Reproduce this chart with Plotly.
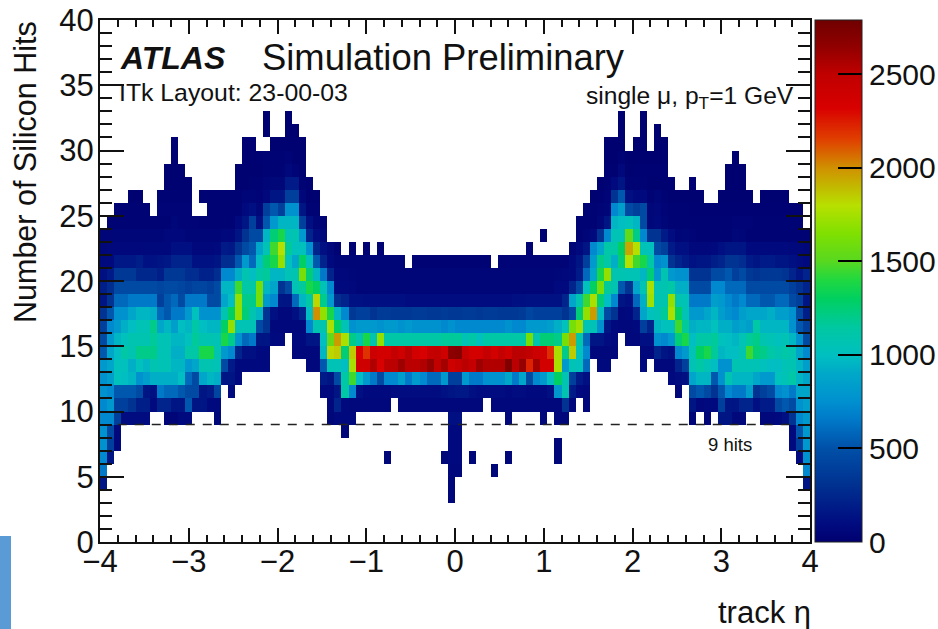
import numpy as np
import plotly.graph_objects as go

x_ticks = [-4, -3, -2, -1, 0, 1, 2, 3, 4]
x_tick_labels = ["\u22124", "\u22123", "\u22122", "\u22121", "0", "1", "2", "3", "4"]
y_ticks = [0, 5, 10, 15, 20, 25, 30, 35, 40]
cb_ticks = [0, 500, 1000, 1500, 2000, 2500]

row_03 = [0]*49 + [40] + [0]*50
row_04 = [100] + [0]*48 + [40] + [0]*49 + [100]
row_05 = [450] + [0]*48 + [50, 50] + [0]*4 + [40] + [0]*43 + [500]
row_06 = [500, 100] + [0]*38 + [40] + [0]*7 + [40, 60, 60, 0, 40] + [0]*4 + [40] + [0]*6 + [40] + [0]*33 + [60, 550]
row_07 = [550, 250, 50] + [0]*46 + [60, 60] + [0]*13 + [40] + [0]*32 + [60, 250, 600]
row_08 = [550, 300, 50] + [0]*31 + [40] + [0]*14 + [60, 60] + [0]*46 + [60, 350, 600]
row_09 = [500, 500, 250, 70, 70, 70, 70, 0, 0, 30, 30, 60, 60, 0, 0, 0, 40] + [0]*15 + [40] + \
    [60, 60, 60] + [0]*13 + [80, 80] + [0]*6 + [50] + [0]*4 + [50, 0, 50, 50] + \
    [0]*17 + [30, 0, 30, 0, 100, 100, 50, 50, 0, 0, 50, 50, 60, 80, 200, 500, 600]
row_10 = [500, 600, 250, 250, 200, 130, 130, 60, 150, 150, 100, 100, 350, 100, 100, 60, 60] + [0]*15 + [50] + \
    [150, 60] + [50]*6 + [0] + [50]*12 + [0] + [50]*9 + [50, 200] + \
    [50, 0, 50] + [0]*14 + [100, 50, 60, 60, 250, 100, 100, 150, 150, 80, 120, 120, 300, 350, 300, 550, 650]
row_11 = [550, 500, 350, 350, 350, 300, 100, 80, 450, 400, 400, 350, 300, 300, 100, 120, 280, 0, 60] + [0]*12 + [60, 60] + \
    [100, 1050, 500, 80, 60, 60, 60, 60, 70, 70, 70, 70, 70, 70, 70, 90, 100, 110, 110, 80, 70, 70, 70, 70, 60, 70, 70, 60, 60, 60, 80, 600, 1000] + \
    [120, 60, 50] + [0]*12 + [40, 0, 300, 350, 300, 200, 350, 500, 450, 450, 650, 200, 250, 300, 500, 550, 450, 700, 700]
row_12 = [550, 650, 900, 850, 800, 550, 650, 750, 750, 750, 750, 850, 400, 300, 700, 800, 750, 100, 100, 60] + [0]*11 + [120, 100] + \
    [300, 1050, 1350, 850, 600, 450, 300, 500, 500, 650, 450, 600, 500, 400, 400, 600, 250, 250, 600, 450, 450, 550, 550, 550, 700, 450, 700, 300, 500, 600, 850, 1250, 1000] + \
    [250, 120, 80] + [0]*11 + [60, 70, 80, 700, 800, 800, 350, 550, 1000, 800, 800, 800, 700, 600, 600, 900, 950, 1050, 800, 700]
row_13 = [600, 700, 900, 900, 750, 900, 800, 1000, 950, 950, 800, 800, 600, 700, 1000, 1000, 950, 300, 120, 60, 60, 60, 60, 60] + [0]*5 + [50, 50, 350, 950] + \
    [950, 850, 1600, 2500, 2500, 2620, 2450, 2600, 2600, 2660, 2600, 2600, 2620, 2680, 2580, 2650, 2500, 2550, 2600, 2550, 2660, 2620, 2620, 2620, 2740, 2600, 2680, 2300, 2650, 2480, 2480, 1600, 600] + \
    [950, 900, 400, 0, 60, 60, 0, 0, 0, 0, 60, 0, 50, 50, 50, 150, 250, 950, 1050, 950, 850, 550, 550, 1000, 950, 950, 950, 900, 850, 850, 950, 1000, 800, 650]
row_14 = [350, 700, 850, 1050, 1000, 1150, 1150, 1150, 950, 950, 750, 750, 1050, 1050, 1300, 1300, 1000, 600, 500, 150, 80, 80, 60, 60, 0, 0, 0, 50, 50, 50, 50, 800, 1700] + \
    [1750, 1200, 1750, 2450, 2230, 2520, 2480, 2480, 2560, 2500, 2600, 2480, 2450, 2550, 2570, 2500, 2700, 2720, 2560, 2470, 2470, 2560, 2480, 2560, 2500, 2600, 2600, 2580, 2520, 2500, 2250, 1600, 1150] + \
    [1750, 900, 500, 50, 50, 50, 50, 0, 0, 0, 50, 50, 150, 100, 80, 500, 600, 950, 1250, 1300, 1100, 800, 850, 850, 1000, 1350, 1200, 1150, 1050, 1000, 1050, 1000, 700, 500]
row_15 = [300, 600, 800, 900, 1000, 1000, 1000, 1100, 950, 950, 800, 800, 900, 1100, 1000, 1000, 950, 1300, 1150, 550, 400, 450, 100, 100, 60, 60, 0, 60, 60, 100, 100, 850, 1400] + \
    [1950, 1600, 1150, 1000, 1300, 1000, 1500] + [1050]*8 + [1100, 1100, 1100, 950, 1050, 900] + [1050]*6 + [1450, 1000, 1200, 1200, 1150, 1450] + \
    [1950, 1050, 400, 100, 100, 70, 60, 0, 50, 50, 80, 80, 550, 500, 600, 1200, 1300, 850, 1050, 1050, 1100, 900, 850, 800, 950, 1100, 1150, 1000, 950, 900, 950, 800, 550, 300]
row_16 = [250, 500, 600, 750, 850, 950, 950, 1150, 700, 800, 650, 850, 800, 1050, 850, 800, 800, 1250, 1500, 950, 950, 950, 300, 200, 50, 50, 50, 50, 50, 500, 1000, 1000, 1600] + \
    [1250, 950, 550, 600, 600, 600, 550, 600, 600, 550, 600, 550, 550, 550, 550, 500, 550, 500, 500, 500, 500, 500, 500, 500, 550, 500, 500, 600, 600, 600, 650, 750, 900] + \
    [1450, 1550, 950, 950, 550, 100, 60, 50, 50, 60, 250, 150, 800, 900, 900, 1350, 1100, 750, 800, 800, 900, 750, 750, 650, 700, 650, 1050, 800, 800, 800, 800, 550, 350, 250]
row_17 = [200, 350, 550, 550, 700, 800, 800, 750, 400, 350, 450, 450, 600, 900, 550, 550, 550, 1000, 1250, 1500, 1200, 1000, 800, 200, 80, 50, 50, 80, 150, 850, 2000, 1500, 1300] + \
    [800, 500, 220, 250, 250, 200, 230, 230, 220, 220, 220, 230, 230, 220, 220, 230, 220, 220, 230, 230, 220, 230, 230, 220, 220, 220, 230, 280, 250, 250, 250, 250, 200] + \
    [300, 1200, 1500, 1950, 850, 300, 200, 50, 60, 150, 700, 900, 950, 1100, 1600, 1250, 950, 600, 600, 700, 800, 650, 550, 500, 650, 700, 700, 700, 750, 650, 650, 550, 300, 130]
row_18 = [100, 200, 400, 400, 450, 450, 450, 450, 250, 350, 400, 300, 450, 450, 450, 300, 300, 700, 850, 1500, 1150, 1150, 1450, 600, 500, 100, 100, 400, 800, 1050, 1700, 1150, 600] + \
    [180, 150, 90, 90] + [80]*6 + [70]*15 + [80, 80] + [90]*5 + [150] + \
    [700, 1000, 1350, 1600, 1200, 850, 500, 100, 80, 400, 750, 1550, 1000, 1000, 1500, 1000, 950, 450, 450, 450, 650, 600, 500, 450, 500, 400, 400, 350, 350, 400, 400, 300, 250, 100]
row_19 = [130, 180, 300, 300, 300, 300, 300, 300, 280, 300, 300, 280, 250, 280, 280, 250, 300, 800, 800, 1350, 1050, 1050, 1450, 800, 700, 200, 300, 950, 1100, 1300, 1250, 950, 500] + \
    [60, 60, 50] + [35]*28 + [60, 60] + \
    [150, 300, 900, 1250, 1450, 1100, 1000, 350, 200, 700, 950, 1600, 950, 1000, 1050, 750, 750, 300, 300, 300, 500, 500, 400, 400, 400, 300, 300, 300, 300, 300, 300, 250, 200, 150]
row_20 = [80, 120, 220, 220, 220, 160, 160, 160, 130, 220, 220, 220, 180, 180, 140, 140, 180, 500, 500, 750, 1000, 850, 1050, 1100, 800, 800, 950, 1000, 1450, 1200, 800, 450, 150] + \
    [50, 50, 40] + [30]*28 + [40, 50] + \
    [60, 120, 400, 700, 1300, 1500, 1000, 1000, 950, 950, 800, 1200, 600, 1000, 600, 550, 550, 200, 200, 200, 300, 300, 350, 250, 300, 220, 200, 220, 220, 220, 200, 150, 100, 150]
row_21 = [60, 60, 110, 110, 110, 130, 90, 90, 100, 110, 150, 150, 150, 90, 90, 90, 100, 180, 180, 350, 600, 400, 850, 1200, 1300, 1500, 900, 700, 1250, 900, 350, 150, 60] + \
    [30]*10 + [0] + [20]*11 + [0] + [25]*10 + \
    [60, 100, 250, 600, 1150, 1050, 750, 1200, 1650, 1350, 1300, 1050, 500, 550, 200, 150, 120, 90, 100, 100, 130, 150, 200, 200, 180, 120, 100, 120, 120, 100, 100, 80, 70, 60]
row_22 = [40, 50, 50, 50, 50, 50, 55, 55, 55, 55, 80, 80, 80, 50, 50, 50, 60, 120, 110, 200, 300, 350, 700, 950, 1350, 1650, 1100, 900, 900, 550, 150, 80, 50] + \
    [15, 0, 15, 0, 15, 0, 15] + [0]*20 + [15] + [0]*5 + \
    [30, 60, 100, 500, 700, 1050, 1050, 1250, 1900, 1650, 950, 900, 300, 250, 120, 80, 80, 50, 50, 50, 60, 80, 100, 100, 100, 60, 60, 60, 60, 60, 60, 50, 50, 40]
row_23 = [30, 30, 30, 30, 30, 30, 30, 30, 30, 50, 50, 50, 30, 30, 30, 30, 30, 50, 50, 100, 200, 300, 300, 800, 1200, 1300, 950, 1000, 600, 150, 70, 40, 0] + \
    [0]*29 + [10] + [0]*3 + \
    [0, 20, 30, 60, 200, 500, 950, 950, 1400, 1150, 500, 200, 200, 120, 70, 30, 40, 25, 20, 20, 20, 20, 20, 40, 30, 20, 20, 20, 20, 20, 20, 20, 20, 20]
row_24 = [0, 20, 20, 20, 20, 20, 20, 20, 20, 20, 40, 25, 25, 25, 20, 20, 20, 20, 20, 60, 100, 250, 80, 350, 600, 800, 800, 800, 250, 80, 30, 20, 0] + [0]*33 + \
    [0, 15, 20, 20, 40, 100, 800, 850, 900, 800, 300, 40, 60, 30, 15, 15, 15, 15, 15, 15, 15, 15, 15, 25, 25, 25, 15, 15, 15, 15, 15, 15, 15, 0]
row_25 = [0, 0, 15, 15, 15, 15, 15, 0, 25, 25, 25, 25, 25, 0, 0, 20, 20, 20, 20, 20, 60, 80, 40, 250, 350, 250, 550, 550, 100, 20, 15, 0, 0] + [0]*33 + \
    [0, 0, 15, 15, 25, 30, 500, 650, 300, 250, 300, 40, 50, 25, 15, 15, 15] + [12]*16 + [0]
row_26 = [0, 0, 0, 0, 10, 10, 0, 0, 15, 15, 15, 15, 15, 0, 15, 15, 15, 15, 15, 15, 30, 30, 25, 50, 100, 100, 250, 250, 40, 10, 10, 0, 0] + [0]*33 + \
    [0, 0, 0, 10, 12, 25, 200, 350, 80, 60, 60, 20, 30, 20, 10, 10, 10, 10, 10, 0, 0, 10, 10, 10, 10, 10, 0, 10, 10, 10, 10, 0, 0, 0]
row_27 = [0]*9 + [10, 10, 10, 10, 0, 0, 0, 0, 0, 0, 10, 10, 15, 15, 30, 40, 40, 120, 120, 15, 8, 0, 0, 0] + [0]*33 + \
    [0, 0, 0, 0, 8, 15, 60, 100, 20, 15, 15, 10, 10, 10, 8, 0, 0, 8, 0, 0, 0, 0, 5, 5, 5] + [0]*9
row_28 = [0]*9 + [10, 10, 10] + [0]*7 + [10, 10, 10, 10, 20, 20, 20, 50, 25, 10] + [0]*4 + [0]*33 + \
    [0]*5 + [8, 10, 50, 10, 8, 8, 8, 8, 8] + [0]*8 + [5, 5, 5] + [0]*9
row_29 = [0]*10 + [8] + [0]*9 + [10, 10, 8, 15, 15, 15, 25, 10, 10] + [0]*4 + [0]*33 + \
    [0]*5 + [5, 5, 20, 5, 5, 5, 5, 5, 5] + [0]*9 + [5] + [0]*10
row_30 = [0]*10 + [8] + [0]*9 + [8, 8, 0, 0, 10, 10, 10, 10, 10] + [0]*4 + [0]*33 + \
    [0]*5 + [5, 5, 5, 0, 5, 5, 0, 5, 5] + [0]*20
row_31 = [0]*23 + [5, 0, 0, 5, 5] + [0]*5 + [0]*33 + [0]*7 + [5, 0, 0, 5, 0, 5] + [0]*21
row_32 = [0]*23 + [5, 0, 0, 5] + [0]*6 + [0]*33 + [0]*7 + [5, 0, 0, 5] + [0]*23

counts_by_row = {3: row_03, 4: row_04, 5: row_05, 6: row_06, 7: row_07, 8: row_08, 9: row_09, 10: row_10,
                 11: row_11, 12: row_12, 13: row_13, 14: row_14, 15: row_15, 16: row_16, 17: row_17, 18: row_18,
                 19: row_19, 20: row_20, 21: row_21, 22: row_22, 23: row_23, 24: row_24, 25: row_25, 26: row_26,
                 27: row_27, 28: row_28, 29: row_29, 30: row_30, 31: row_31, 32: row_32}

for key, r in counts_by_row.items():
    assert len(r) == 100, (key, len(r))

# The cell readings above were taken against a first rough colour key; this pairs them with the palette bar's counts.
reading_levels = [0, 50, 100, 250, 500, 750, 1000, 1250, 1500, 1700, 1850, 2000, 2250, 2450, 2600, 2790]
count_levels = [0, 70, 150, 400, 720, 930, 1080, 1290, 1700, 1820, 1920, 2000, 2200, 2320, 2520, 2790]

empty = [None] * 100
z = [[(round(float(np.interp(v, reading_levels, count_levels))) if v else None) for v in counts_by_row[k]]
     if k in counts_by_row else empty for k in range(40)]

ZMAX = 2790
stops = [(0, "#000070"), (100, "#000c80"), (300, "#003090"), (500, "#0050a8"), (650, "#0078c8"), (750, "#0090d0"),
         (900, "#00a8c8"), (1000, "#00c0c0"), (1150, "#00c8a0"), (1300, "#00d060"), (1400, "#20d840"),
         (1500, "#58d820"), (1650, "#80e000"), (1800, "#b8e000"), (1880, "#c0c000"), (2000, "#d09000"),
         (2150, "#e04000"), (2320, "#d80000"), (2500, "#c00000"), (2650, "#900000"), (2790, "#700000")]
colorscale = [[v / ZMAX, c] for v, c in stops]

FONT = "Liberation Sans"
L, R, T, B = 100, 810, 20, 542
W, H = 1000, 629   # wider than the window so the colour bar's box does not squeeze the axes; the page clips it
PAPER_W = W - L
px = lambda x: (x - L) / PAPER_W
py = lambda y: (B - y) / (B - T)

fig = go.Figure(go.Heatmap(
    z=z, x0=-3.96, dx=0.08, y0=0.5, dy=1, zmin=0, zmax=ZMAX, colorscale=colorscale,
    xgap=0, ygap=0, zsmooth=False,
    colorbar=dict(
        thicknessmode="pixels", thickness=47, lenmode="pixels", len=B - T,
        x=px(815), xanchor="left", xpad=0, y=0, yanchor="bottom", ypad=0,
        outlinecolor="#222", outlinewidth=1, tickmode="array", tickvals=cb_ticks,
        ticks="inside", ticklen=24, tickcolor="black", tickwidth=2,
        tickfont=dict(family=FONT, size=30, color="#111"),
    ),
))

fig.add_shape(type="line", xref="x", yref="y", x0=-3.8, x1=3.8, y0=9, y1=9,
              line=dict(color="#222", width=1.5, dash="9px,8px"))
fig.add_shape(type="rect", xref="paper", yref="paper", x0=px(0), x1=px(11), y0=py(629), y1=py(536),
              fillcolor="#5b9bd5", line=dict(width=0), layer="above")


def label(text, x, y, size, anchor="left", angle=0, **kw):
    fig.add_annotation(text=text, xref="paper", yref="paper", x=px(x), y=py(y), xanchor=anchor, yanchor="middle",
                       showarrow=False, textangle=angle, font=dict(family=FONT, size=size, color="#111"), **kw)


label("<b><i>ATLAS</i></b>", 118, 58, 32)
label("Simulation Preliminary", 260, 57, 36.4)
label("ITk Layout: 23-00-03", 117, 93, 24.8)
label("single \u03bc, p<sub>T</sub>=1 GeV", 584, 97, 24.6)
label("9 hits", 706, 444, 18.5)
label("track \u03b7", 716, 612, 31)
label("Number of Silicon Hits", 25, 172, 30.5, anchor="center", angle=-90)

fig.update_xaxes(domain=[0, (R - L) / PAPER_W], range=[-4, 4], tickmode="array", tickvals=x_ticks, ticktext=x_tick_labels,
                 automargin=False, ticks="inside", ticklen=14, tickwidth=1.5, tickcolor="#111", ticklabelstandoff=-9,
                 minor=dict(dtick=0.2, tick0=-4, ticks="inside", ticklen=7, tickwidth=1.5, tickcolor="#111"),
                 showgrid=False, zeroline=False, showline=True, linecolor="#111", linewidth=2, mirror="ticks",
                 tickfont=dict(family=FONT, size=31, color="#111"))
fig.update_yaxes(range=[0, 40], tickmode="array", tickvals=y_ticks, automargin=False,
                 ticks="inside", ticklen=24, tickwidth=1.5, tickcolor="#111", ticklabelstandoff=-2,
                 minor=dict(dtick=1, tick0=0, ticks="inside", ticklen=12, tickwidth=1.5, tickcolor="#111"),
                 showgrid=False, zeroline=False, showline=True, linecolor="#111", linewidth=2, mirror="ticks",
                 tickfont=dict(family=FONT, size=31, color="#111"))
fig.update_layout(width=W, height=H, autosize=False, margin=dict(l=L, r=0, t=T, b=H - B, pad=0),
                  paper_bgcolor="white", plot_bgcolor="white", showlegend=False)

fig.write_html("out.html", config={"displayModeBar": False},
               post_script="document.body.style.margin='0';document.documentElement.style.overflow='hidden';")
